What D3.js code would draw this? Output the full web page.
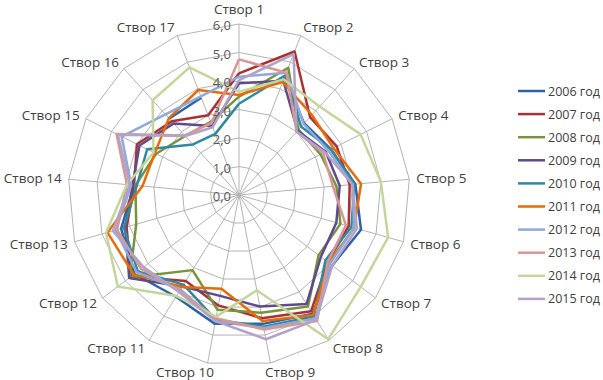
<!DOCTYPE html>
<html>
<head>
<meta charset="utf-8">
<script src="https://cdn.jsdelivr.net/npm/d3@7"></script>
<style>
  body { margin: 0; background: #fff; }
  svg { font-family: "Open Sans", "DejaVu Sans", sans-serif; }
  .grid { fill: none; stroke: #b4b4b4; stroke-width: 1; }
  .series { fill: none; stroke-width: 2.5; stroke-linejoin: round; }
  .tick { font-size: 13px; fill: #595959; }
  .axisLabel { font-size: 13.5px; fill: #404040; }
  .legendText { font-size: 12.5px; fill: #404040; }
</style>
</head>
<body>
<script>
// chart data
var categories = ["Створ 1", "Створ 2", "Створ 3", "Створ 4", "Створ 5", "Створ 6", "Створ 7", "Створ 8", "Створ 9",
                  "Створ 10", "Створ 11", "Створ 12", "Створ 13", "Створ 14", "Створ 15", "Створ 16", "Створ 17"];
var years = ["2006 год", "2007 год", "2008 год", "2009 год", "2010 год", "2011 год", "2012 год", "2013 год", "2014 год", "2015 год"];
var tickValues = [0, 1, 2, 3, 4, 5, 6];
var tickLabels = ["0,0", "1,0", "2,0", "3,0", "4,0", "5,0", "6,0"];

// one array per year, Створ 1..17 (null = no value)
var v2006 = [null, 4.4, 3.4, 3.6, 4.1, 4.45, 4.1, 4.9, 4.6, 4.6, 4.2, 4.6, 4.3, 3.7, null, 3.63, 3.66];
var v2007 = [4.27, 5.4, 3.7, 3.83, 3.9, 4.0, 3.9, 4.8, 4.4, 3.94, 3.55, 4.75, 4.1, 3.7, 4.0, 3.5, 3.0];
var v2008 = [3.45, 4.79, 3.1, 3.2, 3.43, 3.7, 3.5, 4.6, 4.2, 4.1, 3.1, 4.8, 3.75, 3.65, 3.25, 2.8, 2.75];
var v2009 = [3.92, 4.3, 3.05, 3.4, 3.55, 3.55, 3.6, 4.5, 3.98, 3.6, 3.78, 4.83, 4.15, 3.75, 3.9, 3.4, 2.6];
var v2010 = [3.2, 4.5, 3.24, 3.6, 4.07, 4.1, 3.8, 5.0, 4.7, 4.45, 3.7, 4.45, 4.2, 3.6, 3.6, 2.4, 2.3];
var v2011 = [3.51, 4.25, 3.8, 3.7, 4.3, 4.2, 3.95, 4.95, 4.5, 3.35, 3.8, 4.63, 4.8, 3.4, 3.3, 3.65, 3.95];
var v2012 = [4.15, 4.6, 3.37, 3.5, 4.0, 4.2, 4.0, 5.1, 4.75, 4.5, 3.9, 4.5, 4.5, 3.8, 4.6, 3.83, 3.71];
var v2013 = [4.76, 4.6, 3.0, 3.3, 3.31, 3.9, 3.9, 5.2, 4.8, 4.4, 3.95, 4.3, 4.45, 3.95, 4.8, 2.83, 2.7];
var v2014 = [3.62, 4.35, 4.2, 4.77, 5.0, 5.44, 5.35, 5.95, 3.4, 4.34, 4.17, 5.33, 4.85, 3.95, 3.35, 4.5, 4.8];
var v2015 = [4.03, 5.3, 3.0, 3.37, 4.0, 4.3, 4.1, 5.15, 5.15, 4.5, 4.0, 4.2, 4.6, 3.85, 4.75, 2.8, 2.55];
var seriesValues = [v2006, v2007, v2008, v2009, v2010, v2011, v2012, v2013, v2014, v2015];

var colors = ["#2f63a8", "#a83232", "#77933c", "#5f4a8b", "#31899f", "#e46c0a",
              "#8eaadb", "#d99694", "#c3d69b", "#b3a2c7"];

(function(){
  var width = 603,
      height = 380,
      cx = 239,
      cy = 195,
      R = 171;

  var svg = d3.select("body")
    .append("svg")
    .attr("width", width)
    .attr("height", height);

  // radius and angle scales
  var r = d3.scaleLinear().domain([0, 6]).range([0, R]);
  var angle = d3.scaleLinear().domain([0, categories.length]).range([0, 2 * Math.PI]);

  var g = svg.append("g").attr("transform", "translate(" + cx + "," + cy + ")");

  // rings
  g.selectAll(".ring")
    .data(tickValues.slice(1))
    .enter()
    .append("path")
    .attr("class", "grid")
    .attr("d", function(t){
      var pts = categories.map(function(c, i){ return [angle(i), r(t)]; });
      return d3.lineRadial().curve(d3.curveLinearClosed)(pts);
    });

  // spokes
  g.selectAll(".spoke")
    .data(categories)
    .enter()
    .append("line")
    .attr("class", "grid")
    .attr("x1", 0).attr("y1", 0)
    .attr("x2", function(d, i){ return r(6) * Math.sin(angle(i)); })
    .attr("y2", function(d, i){ return -r(6) * Math.cos(angle(i)); });

  // series lines (closed by repeating first point; nulls make gaps)
  var line = d3.lineRadial()
    .defined(function(d){ return d[1] != null; })
    .angle(function(d){ return d[0]; })
    .radius(function(d){ return r(d[1]); });

  g.selectAll(".series")
    .data(seriesValues)
    .enter()
    .append("path")
    .attr("class", "series")
    .attr("stroke", function(d, i){ return colors[i]; })
    .attr("d", function(vals){
      var pts = vals.map(function(v, i){ return [angle(i), v]; });
      pts.push([angle(vals.length), vals[0]]);
      return line(pts);
    });

  // tick labels along Створ 1
  g.selectAll(".tick")
    .data(tickValues)
    .enter()
    .append("text")
    .attr("class", "tick")
    .attr("text-anchor", "end")
    .attr("x", -8)
    .attr("y", function(d){ return -r(d) + 6; })
    .text(function(d, i){ return tickLabels[i]; });

  // category labels
  g.selectAll(".axisLabel")
    .data(categories)
    .enter()
    .append("text")
    .attr("class", "axisLabel")
    .attr("text-anchor", "middle")
    .text(function(d){ return d; })
    .each(function(d, i){
      var a = angle(i),
          s = Math.sin(a),
          c = Math.cos(a),
          w = this.getComputedTextLength();
      var px = r(6) * s,
          py = -r(6) * c;
      var dx = Math.abs(s) < 0.01 ? 0 : Math.sign(s) * Math.min(1, Math.abs(s) * 4) * w / 2 + 7 * s;
      var dy = i == 0 ? -15.5 : -c * 9;
      d3.select(this)
        .attr("x", px + dx)
        .attr("y", py + dy + 5);
    });

  // legend
  var legend = svg.selectAll(".legend")
    .data(years)
    .enter()
    .append("g")
    .attr("transform", function(d, i){ return "translate(518," + (91 + i * 23.1) + ")"; });

  legend.append("line")
    .attr("x1", 0).attr("x2", 27)
    .attr("y1", 0).attr("y2", 0)
    .attr("stroke", function(d, i){ return colors[i]; })
    .attr("stroke-width", 2.5);

  legend.append("text")
    .attr("class", "legendText")
    .attr("x", 30)
    .attr("y", 4.5)
    .text(function(d){ return d; });
})();
</script>
</body>
</html>
